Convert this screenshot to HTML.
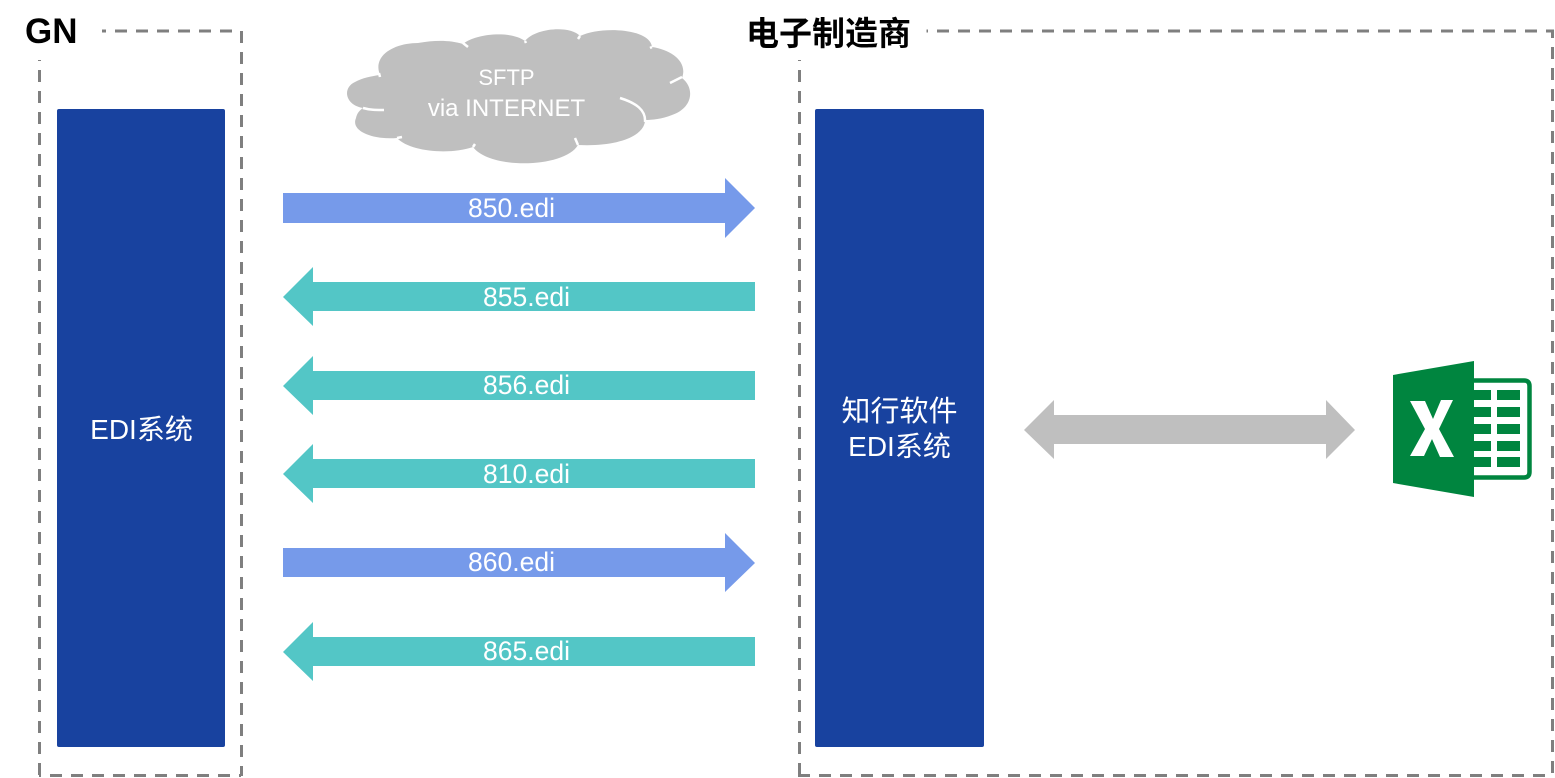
<!DOCTYPE html>
<html><head><meta charset="utf-8"><style>
html,body{margin:0;padding:0;background:#fff}
svg{display:block}
text{font-family:"Liberation Sans","Noto Sans CJK SC",sans-serif}
.w{fill:#fff;font-size:26.5px;text-anchor:middle}
.c{fill:#fff;font-size:28px;text-anchor:middle}
.b{fill:#000;font-weight:bold}
</style></head><body>
<svg width="1555" height="778" viewBox="0 0 1555 778" xmlns="http://www.w3.org/2000/svg">
<g fill="none" stroke="#7f7f7f" stroke-width="3" stroke-dasharray="12 9">
<path d="M102 31H241" stroke-dashoffset="8"/>
<path d="M241.500 31V776"/>
<path d="M39 775.500H241" stroke-dashoffset="10"/>
<path d="M39.500 60V776" stroke-dashoffset="11"/>
<path d="M926.500 31H1554" stroke-dashoffset="10.500"/>
<path d="M1552.500 31V776" stroke-dashoffset="5"/>
<path d="M798 775.500H1552" stroke-dashoffset="0"/>
<path d="M799.500 60V776" stroke-dashoffset="11"/>
</g>
<text class="b" x="25" y="43" style="font-size:35px">GN</text>
<text class="b" x="746" y="45" style="font-size:33px">电子制造商</text>
<rect x="57" y="109" width="168" height="638" rx="2" fill="#18429f"/>
<rect x="815" y="109" width="169" height="638" rx="2" fill="#18429f"/>
<text class="c" x="141.500" y="439">EDI系统</text>
<text class="c" x="899.500" y="421" style="font-size:29px">知行软件</text>
<text class="c" x="899.500" y="456">EDI系统</text>

<path fill="#bfbfbf" d="M380 75C372 55 395 43 418 43C435 40 450 40 463 44C475 34 510 30 525 41C535 28 570 25 580 36C600 26 650 28 652 47C672 50 688 62 682 78C695 88 693 108 672 115C662 119 652 120 645 120C645 135 620 147 578 145C565 168 490 170 473 147C450 155 410 152 397 138C375 140 350 132 356 118C357 113 360 110 363 108C345 105 342 88 355 82C362 78 372 76 380 75Z"/>
<path fill="none" stroke="#fff" stroke-width="2.500" d="M379 73L380 77M463 43L468 47M525 41L526 43M580 36L578 39M652 47L650 48M363 108C370 110 376 110 384 110M397 138L402 137M473 147L475 144M620 98C636 103 646 110 645 122M670 83L682 77M578 145L575 138"/>
<text class="w" x="506.500" y="85" style="font-size:22px">SFTP</text>
<text class="w" x="506.500" y="116" style="font-size:24px">via INTERNET</text>

<g fill="#769aea">
<path d="M283 193H725V178L755 208L725 238V223H283Z"/>
<path d="M283 548H725V533L755 563L725 592V577H283Z"/>
</g>
<g fill="#53c6c6">
<path d="M755 282H313V267L283 297L313 326V311H755Z"/>
<path d="M755 371H313V356L283 386L313 415V400H755Z"/>
<path d="M755 459H313V444L283 474L313 503V488H755Z"/>
<path d="M755 637H313V622L283 652L313 681V666H755Z"/>
</g>
<text class="w" x="511.500" y="217">850.edi</text>
<text class="w" x="526.500" y="306">855.edi</text>
<text class="w" x="526.500" y="394">856.edi</text>
<text class="w" x="526.500" y="483">810.edi</text>
<text class="w" x="511.500" y="571">860.edi</text>
<text class="w" x="526.500" y="660">865.edi</text>

<path fill="#bfbfbf" d="M1024 430L1054 400V415H1326V400L1355 430L1326 459V444H1054V459Z"/>

<path fill="#fff" stroke="#00853f" stroke-width="4.500" d="M1470 380.500H1524Q1529.500 380.500 1529.500 386V472Q1529.500 477.500 1524 477.500H1470Z"/>
<g fill="#00853f">
<rect x="1474" y="390" width="17" height="10"/><rect x="1497" y="390" width="23" height="10"/>
<rect x="1474" y="407" width="17" height="10"/><rect x="1497" y="407" width="23" height="10"/>
<rect x="1474" y="424" width="17" height="10"/><rect x="1497" y="424" width="23" height="10"/>
<rect x="1474" y="441" width="17" height="10"/><rect x="1497" y="441" width="23" height="10"/>
<rect x="1474" y="457" width="17" height="10"/><rect x="1497" y="457" width="23" height="10"/>
<path d="M1393 375L1474 361V497L1393 483Z"/>
</g>
<path fill="#fff" d="M1410 401H1425L1433 419L1441 400H1453L1439 429L1454 457H1440L1432 439L1424 456H1410L1425 429Z"/>
</svg>
</body></html>
